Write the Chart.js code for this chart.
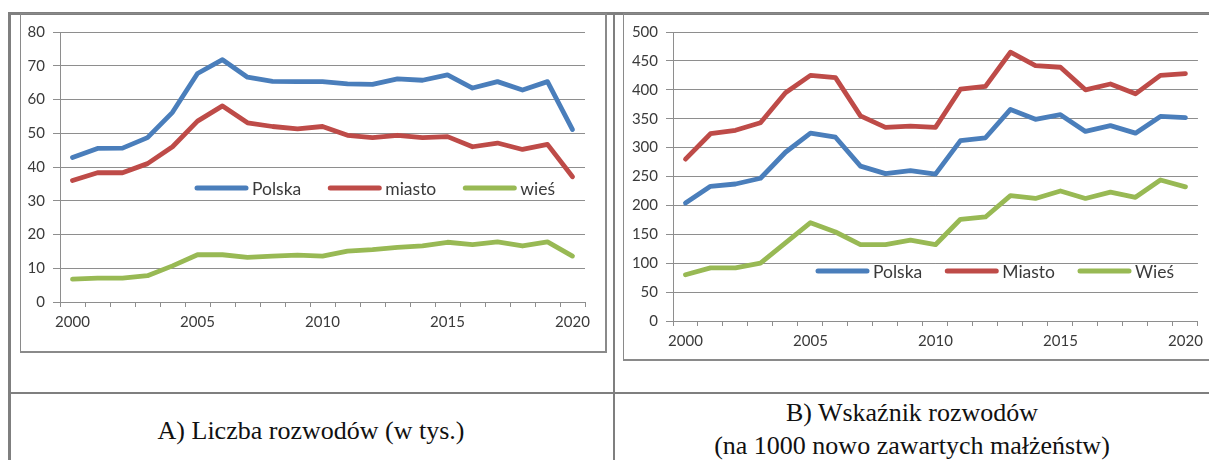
<!DOCTYPE html>
<html>
<head>
<meta charset="utf-8">
<script src="https://cdn.jsdelivr.net/npm/chart.js@4.4.0/dist/chart.umd.min.js"></script>
<style>
  body { margin: 0; background: #fff; }
  #page { position: relative; width: 1209px; height: 460px; overflow: hidden; background: #fff; }
  .rule { position: absolute; background: #7f7f7f; }
  .frame { position: absolute; border: 1px solid #8a8a8a; border-right-width: 2px; border-bottom-width: 2px; box-sizing: border-box; }
  canvas { position: absolute; }
  .cap { position: absolute; font-family: "Liberation Serif", "Times New Roman", serif; font-size: 26px; color: #111; text-align: center; white-space: nowrap; }
</style>
</head>
<body>
<div id="page">
  <div class="rule" style="left:8px;top:12px;width:1201px;height:3px"></div>
  <div class="rule" style="left:8px;top:12px;width:3px;height:448px"></div>
  <div class="rule" style="left:613px;top:12px;width:2px;height:448px"></div>
  <div class="rule" style="left:8px;top:392px;width:1201px;height:2px"></div>

  <div class="frame" style="left:20px;top:13px;width:587px;height:340px"></div>
  <div class="frame" style="left:623px;top:13px;width:600px;height:348px"></div>

  <canvas id="chartA" width="586" height="339" style="left:20px;top:13px"></canvas>
  <canvas id="chartB" width="586" height="347" style="left:623px;top:13px"></canvas>

  <div class="cap" style="left:9px;width:604px;top:416px">A) Liczba rozwodów (w tys.)</div>
  <div class="cap" style="left:615px;width:594px;top:396px;line-height:33px">B) Wskaźnik rozwodów<br>(na 1000 nowo zawartych małżeństw)</div>
</div>

<script>
// lata 2000-2020
const years = [2000, 2001, 2002, 2003, 2004, 2005, 2006, 2007, 2008, 2009, 2010,
               2011, 2012, 2013, 2014, 2015, 2016, 2017, 2018, 2019, 2020];

// A) liczba rozwodow (w tys.)
const polskaA = [42.8, 45.5, 45.6, 48.7, 56.2, 67.7, 71.8, 66.6, 65.4, 65.3, 65.3,
                 64.6, 64.5, 66.1, 65.7, 67.3, 63.4, 65.3, 62.8, 65.3, 51.1];
const miastoA = [36.0, 38.3, 38.3, 41.0, 46.0, 53.6, 58.1, 53.1, 52.0, 51.3, 52.0,
                 49.4, 48.7, 49.4, 48.7, 49.0, 46.0, 47.1, 45.2, 46.7, 37.1];
const wiesA = [6.8, 7.1, 7.1, 7.8, 10.7, 14.0, 14.0, 13.2, 13.6, 13.9, 13.6,
               15.1, 15.5, 16.2, 16.6, 17.7, 17.0, 17.8, 16.6, 17.8, 13.6];

// B) wskaznik rozwodow (na 1000 nowo zawartych malzenstw)
const polskaB = [204, 233, 237, 247, 292, 325, 318, 268, 255, 260, 254,
                 312, 317, 366, 349, 357, 328, 338, 325, 354, 352];
const miastoB = [280, 324, 330, 343, 395, 425, 421, 355, 335, 337, 335,
                 401, 406, 465, 442, 439, 400, 410, 393, 425, 428];
const wiesB = [80, 92, 92, 100, 135, 170, 154, 132, 132, 140, 132,
               176, 180, 217, 212, 225, 212, 223, 214, 244, 232];

const labelsA = ["Polska", "miasto", "wieś"];
const labelsB = ["Polska", "Miasto", "Wieś"];

const BLUE = "#4a7ebb";
const RED = "#be4b48";
const GREEN = "#98b954";
const GRID = "#8e8e8e";
const TXT = "#3a3a3a";
const FONT = { family: "Lato, 'Open Sans', sans-serif", size: 15 };
const LEGEND_SIZE = 17.5;

// legenda rysowana wewnatrz obszaru wykresu
const inlineLegend = {
  id: "inlineLegend",
  afterDraw(chart, args, opts) {
    const ctx = chart.ctx;
    ctx.save();
    ctx.font = LEGEND_SIZE + "px " + FONT.family;
    ctx.textBaseline = "middle";
    let x = opts.x;
    chart.data.datasets.forEach((ds) => {
      ctx.strokeStyle = ds.borderColor;
      ctx.lineWidth = 5;
      ctx.lineCap = "round";
      ctx.beginPath();
      ctx.moveTo(x + 2, opts.y);
      ctx.lineTo(x + opts.lineLen - 2, opts.y);
      ctx.stroke();
      x += opts.lineLen + 4;
      ctx.fillStyle = TXT;
      ctx.fillText(ds.label, x, opts.y + 1);
      x += ctx.measureText(ds.label).width + opts.gap;
    });
    ctx.restore();
  }
};

function makeChart(id, labels, series, yMax, yStep, yWidth, xHeight, padRight, legendPos) {
  const colors = [BLUE, RED, GREEN];
  new Chart(document.getElementById(id), {
    type: "line",
    data: {
      labels: years,
      datasets: series.map((d, i) => ({
        label: labels[i],
        data: d,
        borderColor: colors[i],
        backgroundColor: colors[i],
        borderWidth: 4.8,
        borderJoinStyle: "round",
        borderCapStyle: "round",
        pointRadius: 0,
        tension: 0,
      })),
    },
    options: {
      responsive: false,
      animation: false,
      layout: { padding: { left: 0, right: padRight, top: 19, bottom: 0 } },
      plugins: {
        legend: { display: false },
        tooltip: { enabled: false },
        inlineLegend: legendPos,
      },
      scales: {
        x: {
          offset: true,
          grid: { offset: true, drawOnChartArea: false, drawTicks: true, tickLength: 5, color: GRID },
          border: { color: GRID },
          ticks: {
            autoSkip: false,
            maxRotation: 0,
            padding: 6,
            color: TXT,
            font: FONT,
            callback: (v, i) => (years[i] % 5 === 0 ? String(years[i]) : ""),
          },
          afterFit: (s) => { s.height = xHeight; },
        },
        y: {
          min: 0,
          max: yMax,
          grid: { color: GRID, tickLength: 7 },
          border: { color: GRID },
          ticks: { stepSize: yStep, padding: 8, color: TXT, font: FONT },
          afterFit: (s) => { s.width = yWidth; },
        },
      },
    },
    plugins: [inlineLegend],
  });
}

makeChart("chartA", labelsA, [polskaA, miastoA, wiesA], 80, 10, 40, 50, 21,
  { x: 175, y: 175, lineLen: 53, gap: 27 });
makeChart("chartB", labelsB, [polskaB, miastoB, wiesB], 500, 50, 50, 39, 7,
  { x: 193, y: 258, lineLen: 53, gap: 23 });
</script>
</body>
</html>
